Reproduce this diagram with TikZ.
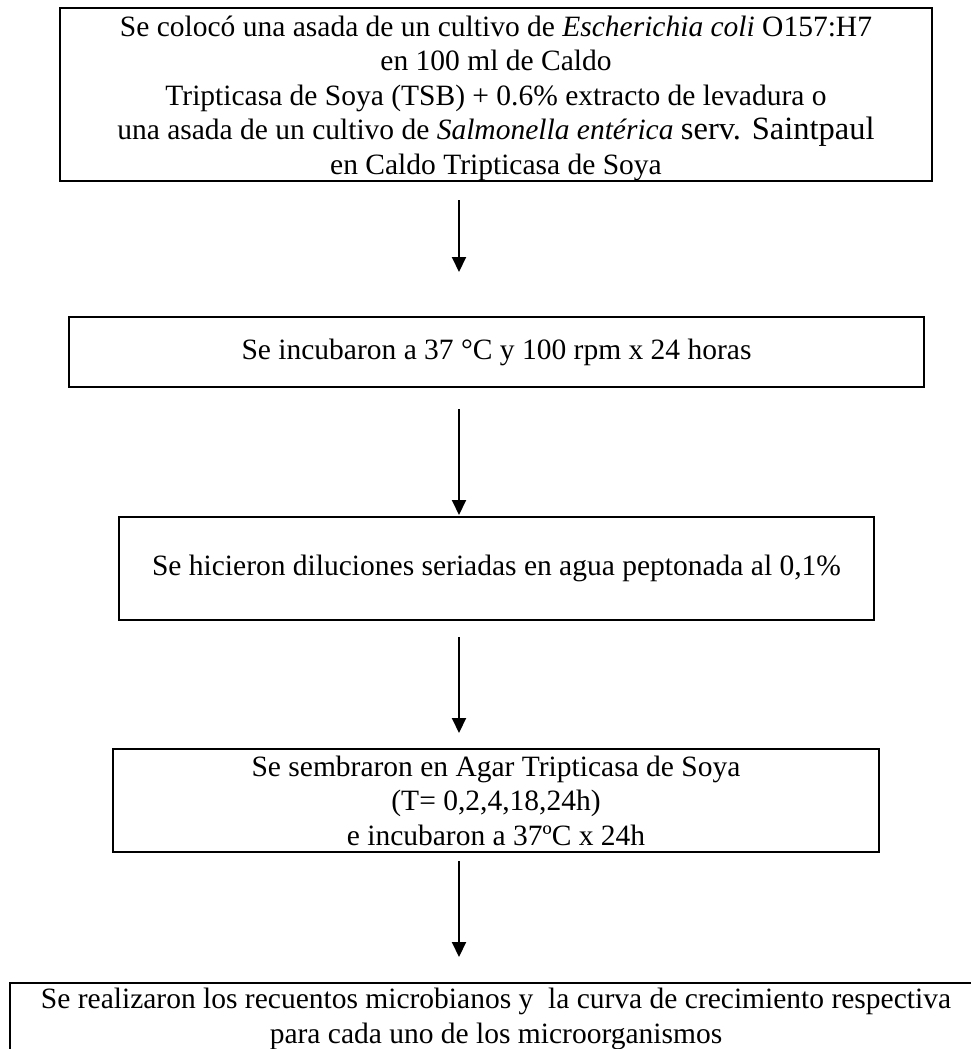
\documentclass[tikz,border=0pt]{standalone}
\usepackage{fontspec}
\setmainfont{Liberation Serif}
\usetikzlibrary{arrows.meta}
\tikzset{
  stepbox/.style={draw, rectangle, line width=2.3pt, outer sep=0pt, inner xsep=0pt, inner ysep=0pt,
    align=center, font=\fontsize{29.5}{34.5}\selectfont},
  arr/.style={line width=2pt, -{Triangle[length=15pt,width=14pt]}}
}
\begin{document}
\begin{tikzpicture}[x=1pt,y=-1pt]
\useasboundingbox (0,0) rectangle (971,1049);
\clip (0,0) rectangle (971,1049);
\fill[white] (0,0) rectangle (971,1049);
\coordinate (ax) at (459,0);

\node[stepbox, minimum width=872pt, minimum height=173pt, text height=166pt] (b1) at (496,94.5)
  {Se colocó una asada de un cultivo de \textit{Escherichia coli} O157:H7\\
   en 100 ml de Caldo\\
   Tripticasa de Soya (TSB) + 0.6\% extracto de levadura o\\
   una asada de un cultivo de \textit{Salmonella entérica} {\fontsize{32.5}{34.5}\selectfont serv. Saintpaul}\\
   en Caldo Tripticasa de Soya};

\node[stepbox, minimum width=855pt, minimum height=70pt] (b2) at (496.5,352)
  {Se incubaron a 37 °C y 100 rpm x 24 horas};

\node[stepbox, minimum width=755pt, minimum height=103pt] (b3) at (496.5,568.5)
  {Se hicieron diluciones seriadas en agua peptonada al 0,1\%};

\node[stepbox, minimum width=766pt, minimum height=103pt] (b4) at (496,800.5)
  {Se sembraron en Agar Tripticasa de Soya\\
   (T= 0,2,4,18,24h)\\
   e incubaron a 37ºC x 24h};

\node[stepbox, minimum width=972pt, inner ysep=5.5pt, anchor=north] (b5) at (496,983)
  {Se realizaron los recuentos microbianos y~~la curva de crecimiento respectiva\\
   para cada uno de los microorganismos};

\draw[arr, shorten <=19pt, shorten >=45pt] (b1.south -| ax) -- (b2.north -| ax);
\draw[arr, shorten <=22pt, shorten >=2pt] (b2.south -| ax) -- (b3.north -| ax);
\draw[arr, shorten <=17pt, shorten >=16pt] (b3.south -| ax) -- (b4.north -| ax);
\draw[arr, shorten <=9pt, shorten >=26pt] (b4.south -| ax) -- (b5.north -| ax);
\end{tikzpicture}
\end{document}
